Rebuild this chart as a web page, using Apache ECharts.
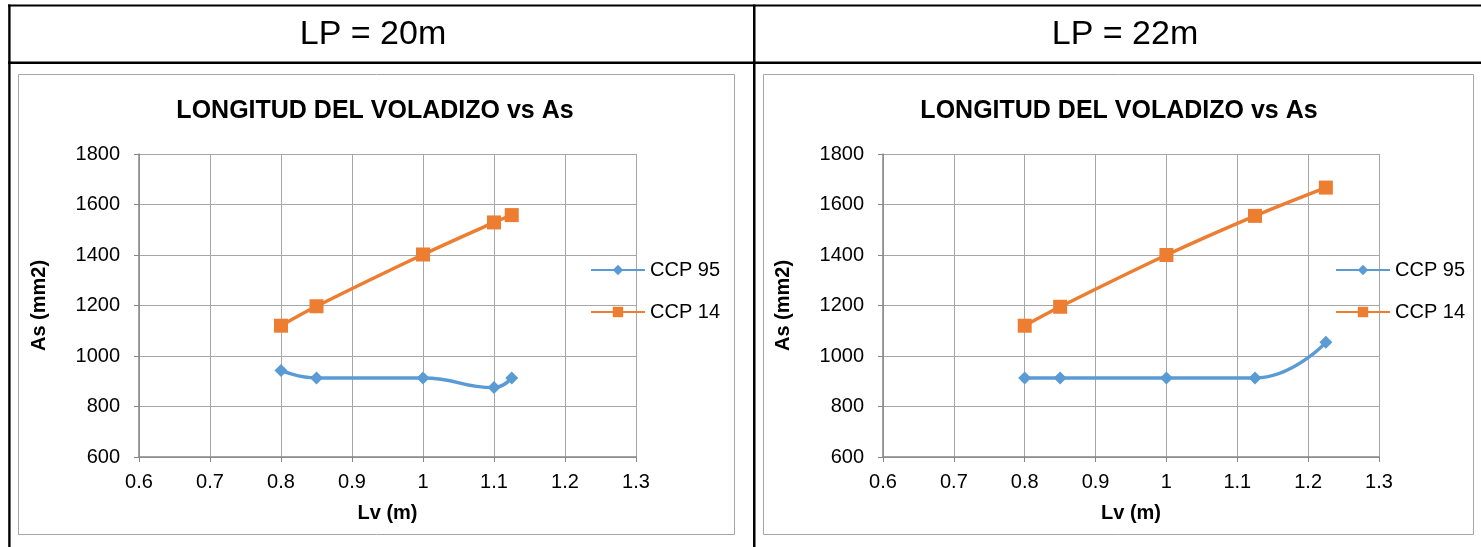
<!DOCTYPE html>
<html>
<head>
<meta charset="utf-8">
<script src="https://cdn.jsdelivr.net/npm/echarts@6/dist/echarts.min.js"></script>
<style>
  html, body { margin: 0; padding: 0; background: #ffffff; }
  #chart { width: 1481px; height: 547px; }
</style>
</head>
<body>
<div id="chart"></div>
<script>
// ---- data ----
const panelHeaders = ['LP = 20m', 'LP = 22m'];
const chartTitle = 'LONGITUD DEL VOLADIZO vs As';
const xAxisTitle = 'Lv (m)';
const yAxisTitle = 'As (mm2)';
const seriesNames = ['CCP 95', 'CCP 14'];

// LP = 20m
const lvLP20 = [0.8, 0.85, 1.0, 1.1, 1.125];
const ccp95LP20 = [943, 913, 913, 875, 913];
const ccp14LP20 = [1120, 1197, 1402, 1529, 1558];

// LP = 22m
const lvLP22 = [0.8, 0.85, 1.0, 1.125, 1.225];
const ccp95LP22 = [913, 913, 913, 913, 1054];
const ccp14LP22 = [1120, 1195, 1400, 1555, 1667];

// axis ranges / tick steps
const xRange = [0.6, 1.3];
const xStep = 0.1;
const yRange = [600, 1800];
const yStep = 200;

// ---- styling ----
const FONT = '"Liberation Sans", Arial, sans-serif';
const BLUE = '#5B9BD5';
const ORANGE = '#ED7D31';
const GRID_GRAY = '#A6A6A6';
const AXIS_GRAY = '#868686';

// per-panel layout
const panels = [
  { header: panelHeaders[0], headerX: 373, lv: lvLP20, a: ccp95LP20, b: ccp14LP20,
    box: { x: 18.5, y: 74.5, w: 716, h: 460 },
    grid: { left: 139, top: 154, width: 497, height: 303 },
    titleX: 375, legendLeft: 590 },
  { header: panelHeaders[1], headerX: 1125, lv: lvLP22, a: ccp95LP22, b: ccp14LP22,
    box: { x: 763.5, y: 74.5, w: 710, h: 460 },
    grid: { left: 883, top: 154, width: 496, height: 303 },
    titleX: 1119, legendLeft: 1335 }
];

const pairs = (xs, ys) => xs.map((x, i) => [x, ys[i]]);

const option = {
  backgroundColor: '#ffffff',
  animation: false,
  textStyle: { fontFamily: FONT },
  title: panels.map(p => ({
    text: chartTitle,
    left: p.titleX,
    top: 99,
    padding: 0,
    textAlign: 'center',
    textStyle: { fontFamily: FONT, fontSize: 25, fontWeight: 'bold', color: '#000000' }
  })),
  legend: panels.map(p => ({
    orient: 'vertical',
    left: p.legendLeft,
    top: 260,
    padding: 0,
    itemWidth: 54,
    itemHeight: 13,
    itemGap: 22,
    data: seriesNames,
    textStyle: { fontFamily: FONT, fontSize: 20, color: '#000000' }
  })),
  grid: panels.map(p => Object.assign({ containLabel: false }, p.grid)),
  xAxis: panels.map((p, i) => ({
    type: 'value',
    gridIndex: i,
    min: xRange[0],
    max: xRange[1],
    interval: xStep,
    name: xAxisTitle,
    nameLocation: 'middle',
    nameGap: 46,
    nameTextStyle: { fontFamily: FONT, fontSize: 20, fontWeight: 'bold', color: '#000000' },
    axisLine: { show: true, lineStyle: { color: AXIS_GRAY, width: 1.5 } },
    axisTick: { show: true, length: 5, lineStyle: { color: AXIS_GRAY } },
    axisLabel: { fontFamily: FONT, fontSize: 20, color: '#000000', margin: 15,
      formatter: v => String(Math.round(v * 10) / 10) },
    splitLine: { show: true, lineStyle: { color: GRID_GRAY, width: 1 } }
  })),
  yAxis: panels.map((p, i) => ({
    type: 'value',
    gridIndex: i,
    min: yRange[0],
    max: yRange[1],
    interval: yStep,
    name: yAxisTitle,
    nameLocation: 'middle',
    nameRotate: 90,
    nameGap: 90,
    nameTextStyle: { fontFamily: FONT, fontSize: 20, fontWeight: 'bold', color: '#000000' },
    axisLine: { show: true, lineStyle: { color: AXIS_GRAY, width: 1.5 } },
    axisTick: { show: true, length: 5, lineStyle: { color: AXIS_GRAY } },
    axisLabel: { fontFamily: FONT, fontSize: 20, color: '#000000', margin: 19,
      formatter: v => String(Math.round(v)) },
    splitLine: { show: true, lineStyle: { color: GRID_GRAY, width: 1 } }
  })),
  series: panels.flatMap((p, i) => [
    {
      name: seriesNames[0], type: 'line', xAxisIndex: i, yAxisIndex: i,
      data: pairs(p.lv, p.a), smooth: 0.5,
      symbol: 'diamond', symbolSize: 13,
      lineStyle: { color: BLUE, width: 3.5 },
      itemStyle: { color: BLUE, borderWidth: 0 }
    },
    {
      name: seriesNames[1], type: 'line', xAxisIndex: i, yAxisIndex: i,
      data: pairs(p.lv, p.b), smooth: 0.35,
      symbol: 'rect', symbolSize: 14,
      lineStyle: { color: ORANGE, width: 3.5 },
      itemStyle: { color: ORANGE, borderWidth: 0 }
    }
  ]),
  graphic: [
    // table rules
    { type: 'rect', shape: { x: 8, y: 4.5, width: 1473, height: 2 }, style: { fill: '#000' }, silent: true },
    { type: 'rect', shape: { x: 8, y: 61.5, width: 1473, height: 2.5 }, style: { fill: '#000' }, silent: true },
    { type: 'rect', shape: { x: 8.2, y: 4.5, width: 2.4, height: 543 }, style: { fill: '#000' }, silent: true },
    { type: 'rect', shape: { x: 753, y: 4.5, width: 2.5, height: 543 }, style: { fill: '#000' }, silent: true },
    // chart frames
    ...panels.map(p => ({
      type: 'rect', shape: { x: p.box.x, y: p.box.y, width: p.box.w, height: p.box.h },
      style: { fill: 'none', stroke: GRID_GRAY, lineWidth: 1 }, silent: true, z: -1
    })),
    // column headers
    ...panels.map(p => ({
      type: 'text', x: p.headerX, y: 35,
      style: { text: p.header, fontFamily: FONT, fontSize: 34, fill: '#000',
        align: 'center', verticalAlign: 'middle' },
      silent: true
    }))
  ]
};

const chart = echarts.init(document.getElementById('chart'), null, { renderer: 'canvas' });
chart.setOption(option);
</script>
</body>
</html>
